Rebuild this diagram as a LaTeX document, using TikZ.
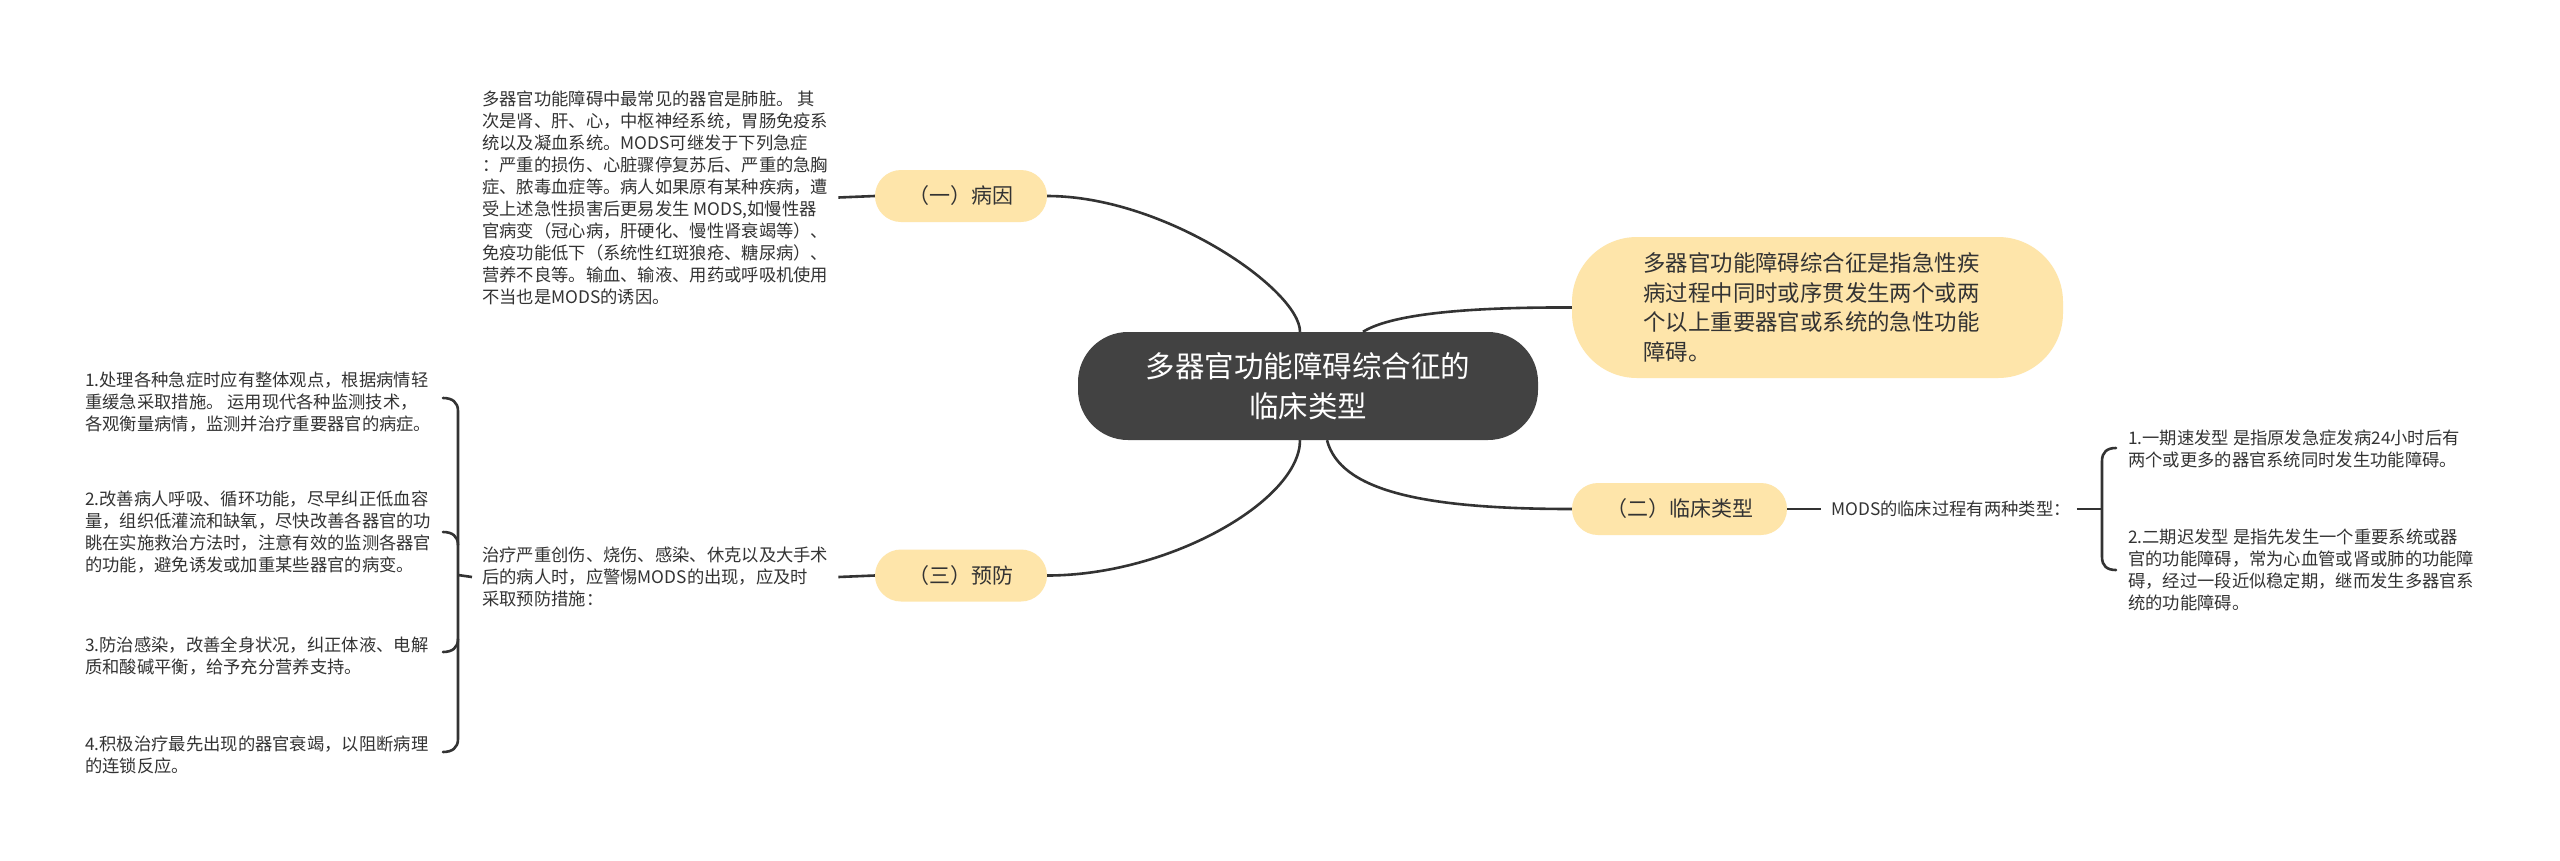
\documentclass[tikz,border=0pt]{standalone}
\usepackage{fontspec}
\setmainfont{Noto Sans CJK SC}
\usetikzlibrary{calc}
\definecolor{pillc}{RGB}{254,229,170}
\definecolor{darkc}{RGB}{66,66,66}
\definecolor{txtc}{RGB}{51,51,51}
\definecolor{linec}{RGB}{51,51,51}
\begin{document}
\begin{tikzpicture}[x=1pt,y=-1pt,
  conn/.style={draw=linec,line width=2.6pt},
  pill/.style={fill=pillc,rounded corners=26pt,minimum height=52pt,inner sep=0pt,text=txtc,font=\fontsize{21}{25}\selectfont},
  small/.style={align=left,inner xsep=10pt,inner ysep=0pt,text=txtc,font=\fontsize{17.3}{22}\selectfont},
]
\useasboundingbox (0,0) rectangle (2560,860);
\fill[white] (0,0) rectangle (2560,860);

% central topic
\node[fill=darkc,rounded corners=50pt,minimum width=460pt,minimum height=108pt,
      text=white,align=center,font=\fontsize{29.5}{40}\selectfont] (center) at (1308,386)
  {多器官功能障碍综合征的\\临床类型};

% definition box
\node[fill=pillc,rounded corners=65pt,minimum width=491pt,minimum height=141pt,
      align=left,text=txtc,font=\fontsize{22.4}{29.7}\selectfont] (def) at (1817.5,307.5)
  {多器官功能障碍综合征是指急性疾\hspace*{12pt}\\病过程中同时或序贯发生两个或两\\个以上重要器官或系统的急性功能\\障碍。};

% main branches
\node[pill,minimum width=172pt] (bingyin) at (961,196) {（一）病因};
\node[pill,minimum width=172pt] (yufang) at (961,575.5) {（三）预防};
\node[pill,minimum width=215pt] (linchuang) at (1679.5,509) {（二）临床类型};

% 病因 text
\node[small,anchor=west] (bytext) at (472,197.5)
  {多器官功能障碍中最常见的器官是肺脏。 其\\
   次是肾、肝、心，中枢神经系统，胃肠免疫系\\
   统以及凝血系统。MODS可继发于下列急症\\
   ：严重的损伤、心脏骤停复苏后、严重的急胸\\
   症、脓毒血症等。病人如果原有某种疾病，遭\\
   受上述急性损害后更易发生 MODS,如慢性器\\
   官病变（冠心病，肝硬化、慢性肾衰竭等）、\\
   免疫功能低下（系统性红斑狼疮、糖尿病）、\\
   营养不良等。输血、输液、用药或呼吸机使用\\
   不当也是MODS的诱因。};

% 预防 text
\node[small,anchor=west] (yftext) at (472,577)
  {治疗严重创伤、烧伤、感染、休克以及大手术\\
   后的病人时，应警惕MODS的出现，应及时\\
   采取预防措施：};

% 预防 items
\node[small,anchor=west] (p1) at (75,402)
  {1.处理各种急症时应有整体观点，根据病情轻\\
   重缓急采取措施。 运用现代各种监测技术，\\
   各观衡量病情，监测并治疗重要器官的病症。};
\node[small,anchor=west] (p2) at (75,532.5)
  {2.改善病人呼吸、循环功能，尽早纠正低血容\\
   量，组织低灌流和缺氧，尽快改善各器官的功\\
   眺在实施救治方法时，注意有效的监测各器官\\
   的功能，避免诱发或加重某些器官的病变。};
\node[small,anchor=west] (p3) at (75,656)
  {3.防治感染，改善全身状况，纠正体液、电解\\
   质和酸碱平衡，给予充分营养支持。};
\node[small,anchor=west] (p4) at (75,755)
  {4.积极治疗最先出现的器官衰竭，以阻断病理\\
   的连锁反应。};

% 临床类型 text
\node[small,anchor=west] (mods) at (1821,509) {MODS的临床过程有两种类型：};
\node[small,anchor=west] (t1) at (2118,449)
  {1.一期速发型 是指原发急症发病24小时后有\\
   两个或更多的器官系统同时发生功能障碍。};
\node[small,anchor=west] (t2) at (2118,570)
  {2.二期迟发型 是指先发生一个重要系统或器\\
   官的功能障碍，常为心血管或肾或肺的功能障\\
   碍，经过一段近似稳定期，继而发生多器官系\\
   统的功能障碍。};

% curved connectors from the central topic
\draw[conn] (bingyin.east) .. controls (1165,196) and (1300,290) .. ([xshift=-8pt]center.north);
\draw[conn] (yufang.east) .. controls (1170,575.5) and (1300,500) .. ([xshift=-8pt]center.south);
\draw[conn] ([xshift=19pt]center.south) .. controls (1340,490) and (1420,509) .. (linchuang.west);
\draw[conn] ([xshift=55pt]center.north) .. controls (1390,315) and (1460,307) .. (def.west);

% straight connectors
\draw[conn] (bytext.east) -- (bingyin.west);
\draw[conn] (yftext.east) -- (yufang.west);
\draw[conn] (linchuang.east) -- (mods.west);

% left bracket
\coordinate (lbm) at (458,575);
\draw[conn] (yftext.west) -- (lbm);
\draw[conn,line cap=round] (443,398) .. controls (452,398) and (458,402) .. (458,411) -- (458,739)
   .. controls (458,748) and (452,752) .. (443,752);
\draw[conn,line cap=round] (443,532) .. controls (452,532) and (458,536) .. (458,545);
\draw[conn,line cap=round] (443,652) .. controls (452,652) and (458,648) .. (458,639);

% right bracket
\coordinate (rbm) at (2102,509);
\draw[conn] ([xshift=-4pt]mods.east) -- (rbm);
\draw[conn,line cap=round] (2116,448) .. controls (2107,448) and (2102,452) .. (2102,461) -- (2102,557)
   .. controls (2102,566) and (2107,570) .. (2116,570);
\end{tikzpicture}
\end{document}
